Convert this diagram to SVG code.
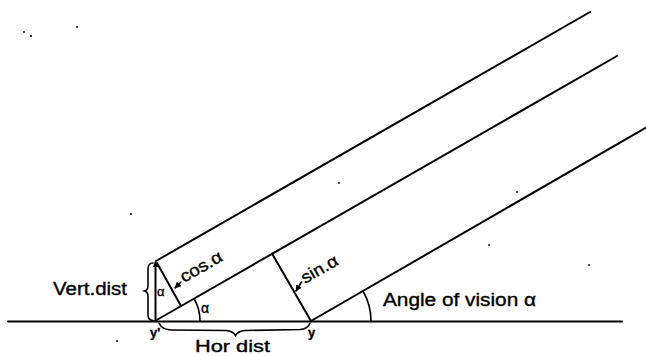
<svg xmlns="http://www.w3.org/2000/svg" width="646" height="356" viewBox="0 0 646 356">
<defs>
<style>
.ln{stroke:#000;stroke-width:2;fill:none;stroke-linecap:round}
.th{stroke:#000;stroke-width:1.6;fill:none;stroke-linecap:round}
.t{font-family:"Liberation Sans",Arial,sans-serif;fill:#000;stroke:#000;stroke-width:0.35}
.sp{fill:#000}
</style>
<marker id="ah" viewBox="0 0 10 10" refX="9" refY="5" markerWidth="4" markerHeight="4" orient="auto">
<path d="M0,0 L10,5 L0,10 z" fill="#000"/>
</marker>
<marker id="ahs" viewBox="0 0 10 10" refX="9" refY="5" markerWidth="3" markerHeight="3" orient="auto">
<path d="M0,0 L10,5 L0,10 z" fill="#000"/>
</marker>
</defs>
<rect width="646" height="356" fill="#fff"/>
<g id="connectors">
<line class="ln" x1="8" y1="321.5" x2="622" y2="321.5"/>
<line class="ln" x1="156" y1="261" x2="590" y2="12"/>
<line class="ln" x1="155" y1="321" x2="617" y2="56"/>
<line class="ln" x1="311" y1="321" x2="646" y2="127.6"/>
<line class="ln" x1="155.5" y1="321" x2="155.5" y2="262" marker-end="url(#ahs)"/>
<line class="ln" x1="157" y1="263" x2="181" y2="306"/>
<line class="ln" x1="311" y1="321" x2="272" y2="253.5"/>
<path class="th" d="M200,321 A45,45 0 0 0 194,298.5"/>
<path class="th" d="M371,321 A60,60 0 0 0 363,291"/>
<path class="th" d="M181,282 L175,288" marker-end="url(#ah)"/>
<path class="th" d="M301.5,282 L296,291" marker-end="url(#ah)"/>
<path class="th" d="M153,263 Q148,263 148,269 L148,286 Q148,290 144.5,291 Q148,292 148,296 L148,315 Q148,320 153,320.5"/>
<path class="th" d="M159,323 Q162,330 172,330 L226,330.5 Q233,331 235.5,335.5 Q238,331 245,330.5 L300,329.5 Q308,329 310,323"/>
</g>
<g id="labels">
<text class="t" x="53" y="295" font-size="18" textLength="74" lengthAdjust="spacingAndGlyphs">Vert.dist</text>
<text class="t" x="195" y="352" font-size="16" textLength="75" lengthAdjust="spacingAndGlyphs">Hor dist</text>
<text class="t" x="383" y="306" font-size="18" textLength="153" lengthAdjust="spacingAndGlyphs">Angle of vision α</text>
<text class="t" transform="translate(184,283) rotate(-30)" font-size="17" textLength="46" lengthAdjust="spacingAndGlyphs">cos.α</text>
<text class="t" transform="translate(305,284) rotate(-30)" font-size="17" textLength="40" lengthAdjust="spacingAndGlyphs">sin.α</text>
<text class="t" x="157" y="295.5" font-size="13">α</text>
<text class="t" x="201" y="312.5" font-size="14">α</text>
<text class="t" x="150" y="337" font-size="13" font-weight="bold">y'</text>
<text class="t" x="308" y="337" font-size="13" font-weight="bold">y</text>
</g>
<g id="specks">
<circle class="sp" cx="24" cy="32" r="0.9"/>
<circle class="sp" cx="31" cy="36" r="1.1"/>
<circle class="sp" cx="77" cy="27" r="1"/>
<circle class="sp" cx="131" cy="214" r="1"/>
<circle class="sp" cx="339" cy="183" r="0.9"/>
<circle class="sp" cx="517" cy="192" r="0.9"/>
<circle class="sp" cx="589" cy="265" r="0.9"/>
<circle class="sp" cx="489" cy="245" r="0.9"/>
<circle class="sp" cx="117" cy="341" r="1"/>
</g>
</svg>
